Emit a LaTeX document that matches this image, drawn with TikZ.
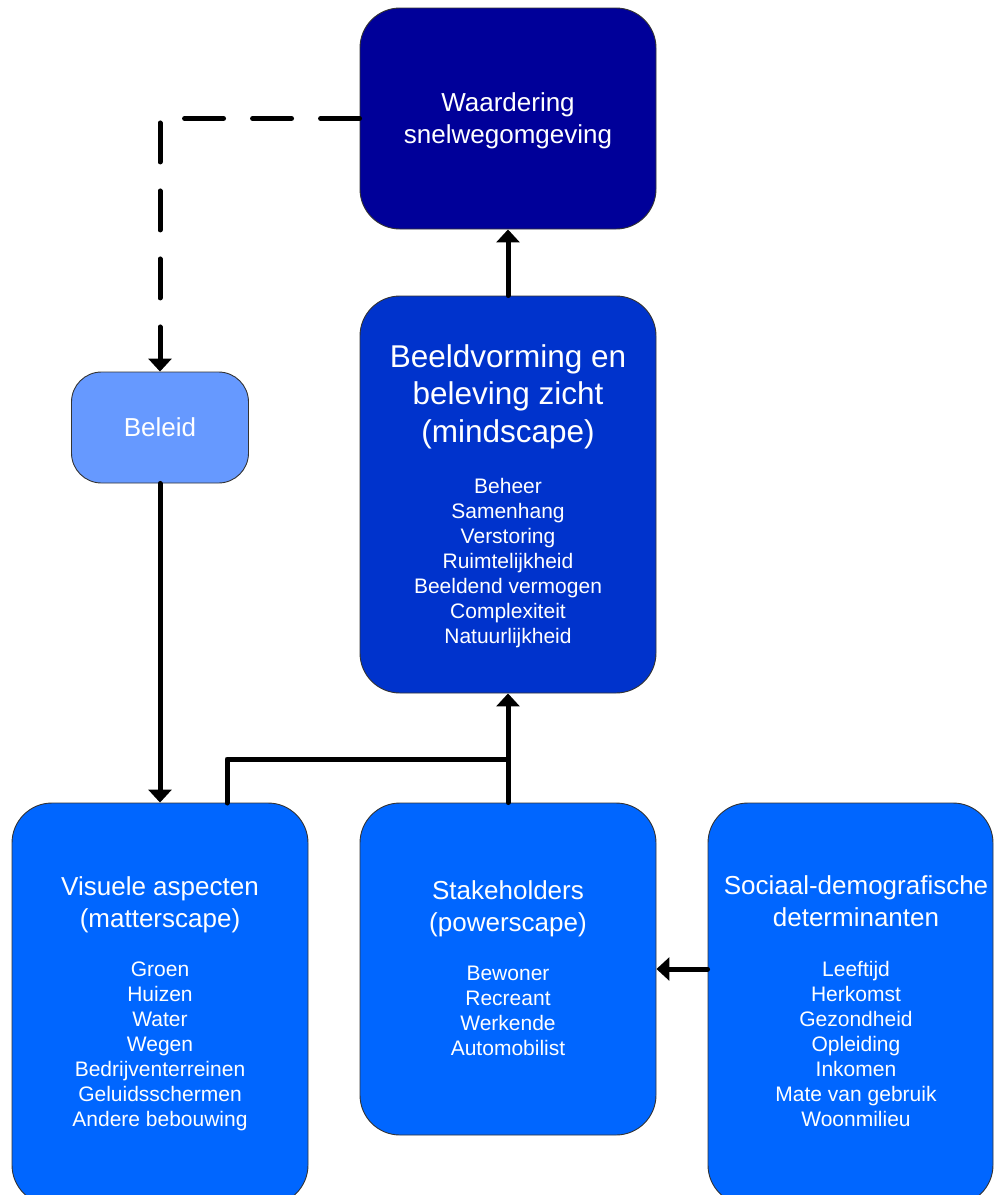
\documentclass[tikz,border=0pt]{standalone}
\usepackage{fontspec}
\setmainfont{Liberation Sans}
\usetikzlibrary{arrows.meta}
\definecolor{cnavy}{HTML}{000099}
\definecolor{cdeep}{HTML}{0033CC}
\definecolor{clight}{HTML}{6699FF}
\definecolor{cmid}{HTML}{0066FF}
\begin{document}
\begin{tikzpicture}[x=1pt,y=-1pt,
  box/.style={draw=black!80, line width=0.9pt, rounded corners=40pt, inner sep=0pt},
  lbl/.style={text=white, align=center, inner sep=0pt, anchor=base},
  ttl/.style={lbl, font=\fontsize{26}{32}\selectfont},
  big/.style={lbl, font=\fontsize{31.5}{37.5}\selectfont},
  lst/.style={lbl, font=\fontsize{21}{24.9}\selectfont},
  conn/.style={line width=5pt, line join=round, line cap=round},
  arr/.style={conn, -{Triangle[width=23pt,length=13pt]}},
  dashline/.style={arr, dash pattern=on 39pt off 29pt}]
\useasboundingbox (0,0) rectangle (994,1195);
\clip (0,0) rectangle (994,1195);
% boxes
\node[box, fill=cnavy, minimum width=296pt, minimum height=221pt] (wa) at (508,118.5) {};
\node[box, fill=cdeep, minimum width=296pt, minimum height=397pt] (be) at (508,494.5) {};
\node[box, fill=clight, minimum width=177pt, minimum height=111pt, rounded corners=30pt] (bel) at (160,427.5) {};
\node[box, fill=cmid, minimum width=296pt, minimum height=402pt] (vi) at (160,1004) {};
\node[box, fill=cmid, minimum width=296pt, minimum height=332pt] (st) at (508,969) {};
\node[box, fill=cmid, minimum width=285pt, minimum height=402pt] (so) at (850.5,1004) {};
% texts (anchor = baseline of last line)
\node[ttl] (waT) at (508,143) {Waardering\\snelwegomgeving};
\node[big] (beT) at (508,442) {Beeldvorming en\\beleving zicht\\(mindscape)};
\node[lst] (beL) at (508,643) {Beheer\\Samenhang\\Verstoring\\Ruimtelijkheid\\Beeldend vermogen\\Complexiteit\\Natuurlijkheid};
\node[ttl] (belT) at (160,436) {Beleid};
\node[ttl] (viT) at (160,927) {Visuele aspecten\\(matterscape)};
\node[lst] (viL) at (160,1126) {Groen\\Huizen\\Water\\Wegen\\Bedrijventerreinen\\Geluidsschermen\\Andere bebouwing};
\node[ttl] (stT) at (508,931) {Stakeholders\\(powerscape)};
\node[lst] (stL) at (508,1055) {Bewoner\\Recreant\\Werkende\\Automobilist};
\node[ttl] (soT) at (856,926) {Sociaal-demografische\\determinanten};
\node[lst] (soL) at (856,1126) {Leeftijd\\Herkomst\\Gezondheid\\Opleiding\\Inkomen\\Mate van gebruik\\Woonmilieu};
% connectors
\coordinate (vtap) at (227,803);
\coordinate (junc) at (508,759);
\draw[arr] (be.north) -- (wa.south);
\draw[dashline] (wa.west) -| (bel.north);
\draw[arr] (bel.south) -- (vi.north);
\draw[conn] (vtap) |- (junc);
\draw[arr] (st.north) -- (be.south);
\draw[arr] (so.west |- st.east) -- (st.east);
\end{tikzpicture}
\end{document}
